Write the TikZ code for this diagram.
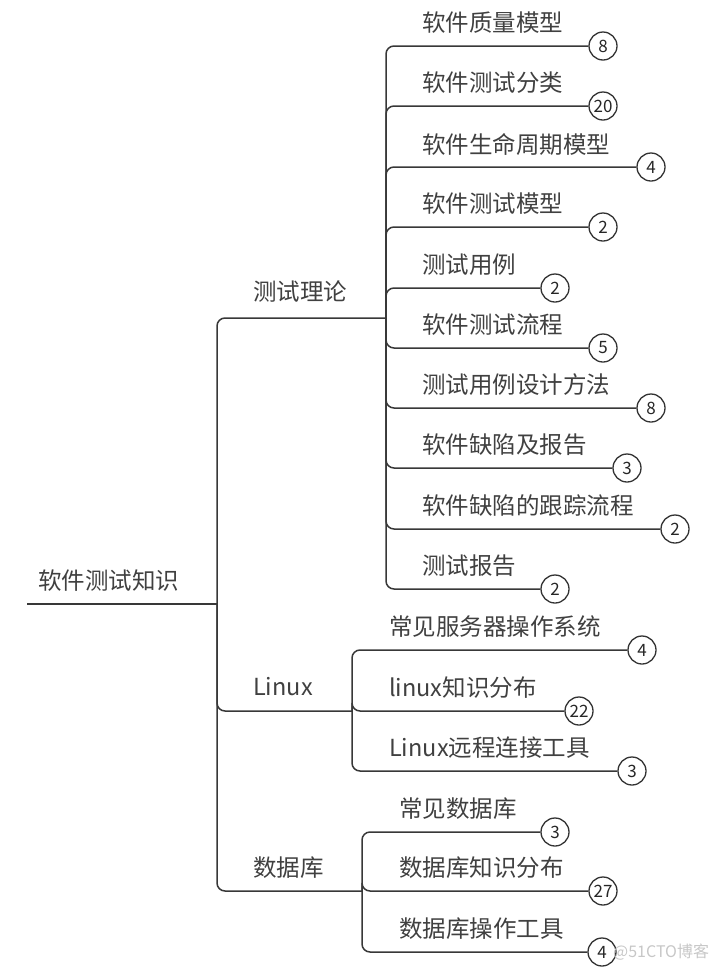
\documentclass[tikz,border=0pt]{standalone}
\usepackage{fontspec}
\setmainfont{Noto Sans CJK SC}
\begin{document}
\begin{tikzpicture}[x=1pt,y=-1pt,
  conn/.style={draw=black!78,line width=1.5pt,rounded corners=8pt},
  lbl/.style={anchor=west,inner sep=0pt,text=black!75,font=\fontsize{23.5}{27}\selectfont},
  badge/.style={circle,draw=black!80,line width=1.3pt,fill=white,minimum size=28pt,inner sep=0pt,text=black!85,font=\fontsize{17}{20}\selectfont}]
\useasboundingbox (0,0) rectangle (720,970);
% junctions
\coordinate (r0) at (27,604);
\coordinate (rj) at (217,604);
\coordinate (tj) at (386,318);
\coordinate (lj) at (352,711);
\coordinate (dj) at (362,891);
% root
\node[lbl] (root) at (38,581) {软件测试知识};
\draw[conn] (r0) -- (rj);
% level 1
\node[lbl] (t) at (253,292) {测试理论};
\node[lbl] (l) at (253,687) {Linux};
\node[lbl] (d) at (253,868) {数据库};
\draw[conn] (rj) |- (tj);
\draw[conn] (rj) |- (lj);
\draw[conn] (rj) |- (dj);
% 测试理论 children
\foreach \n/\txt/\y/\cx/\num in {
  t1/软件质量模型/46/603/8,
  t2/软件测试分类/106/603/20,
  t3/软件生命周期模型/167/651/4,
  t4/软件测试模型/227/603/2,
  t5/测试用例/288/555/2,
  t6/软件测试流程/348/603/5,
  t7/测试用例设计方法/408/651/8,
  t8/软件缺陷及报告/468/627/3,
  t9/软件缺陷的跟踪流程/529/675/2,
  t10/测试报告/589/555/2}{
  \node[lbl] (\n l) at (422,\y-23) {\txt};
  \node[badge] (\n) at (\cx,\y) {\num};
  \draw[conn] (tj) |- (\n.west);
}
% Linux children
\foreach \n/\txt/\y/\cx/\num in {
  l1/常见服务器操作系统/650/642/4,
  l2/linux知识分布/711/579/22,
  l3/Linux远程连接工具/771/632/3}{
  \node[lbl] (\n l) at (389,\y-23) {\txt};
  \node[badge] (\n) at (\cx,\y) {\num};
  \draw[conn] (lj) |- (\n.west);
}
% 数据库 children
\foreach \n/\txt/\y/\cx/\num in {
  d1/常见数据库/832/555/3,
  d2/数据库知识分布/891/603/27,
  d3/数据库操作工具/952/602/4}{
  \node[lbl] (\n l) at (399,\y-23) {\txt};
  \node[badge] (\n) at (\cx,\y) {\num};
  \draw[conn] (dj) |- (\n.west);
}
% watermark
\node[anchor=west,inner sep=0pt,text=black!22,font=\fontsize{16}{18}\selectfont] (wm) at (613,952) {@51CTO博客};
\end{tikzpicture}
\end{document}
